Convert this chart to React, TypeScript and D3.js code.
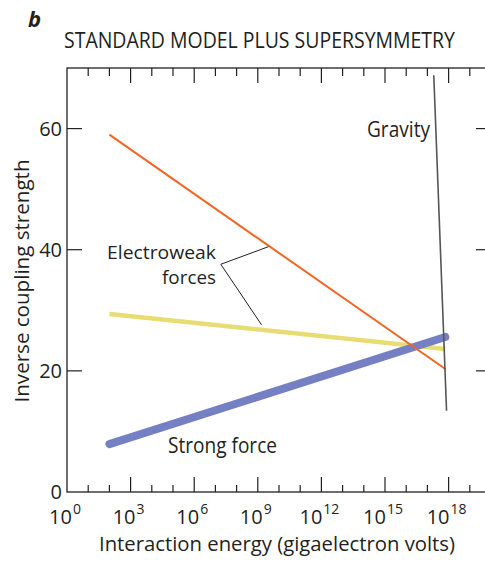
import React from 'react';
import * as d3 from 'd3';

// energies in GeV (log axis), values are inverse coupling strength
const lineEnergy = [1e2, 7e17];
const electroweakA = [59, 20.3];
const electroweakB = [29.4, 23.6];
const strongForce = [7.9, 25.6];
const gravityEnergy = [2e17, 8e17];
const gravityValue = [68.8, 13.4];

const yTicks = [0, 20, 40, 60];
const xMajorExp = [0, 3, 6, 9, 12, 15, 18];
const xMinorExp = d3.range(1, 20);

// callout for "Electroweak forces": [energy, value]
const calloutVertex: [number, number] = [1.8e7, 37.6];
const calloutTargets: [number, number][] = [[3.2e9, 40.5], [1.5e9, 27.6]];

const W = 485;
const H = 563;
const margin = { top: 68, right: -6, bottom: 71, left: 67 };
const FONT = '"Open Sans", sans-serif';
const INK = '#231f20';

export default function App() {
  const x = d3.scaleLog().domain([1, 1e20]).range([margin.left, W - margin.right]);
  const y = d3.scaleLinear().domain([0, 70]).range([H - margin.bottom, margin.top]);

  const line = d3.line<[number, number]>()
    .x(d => x(d[0]))
    .y(d => y(d[1]));

  const pts = (vals: number[], en = lineEnergy) => vals.map((v, i) => [en[i], v] as [number, number]);

  const x0 = x.range()[0];
  const x1 = x.range()[1];
  const yb = y.range()[0];
  const yt = y.range()[1];

  return (
    <div style={{ position: 'absolute', left: 0, top: 0 }}>
      <svg width={W} height={H} style={{ display: 'block', background: '#fff' }}>
        <text x={28} y={27} fontFamily={FONT} fontSize={22} fontWeight={700} fontStyle="italic" fill={INK}>b</text>
        <text x={64} y={48} fontFamily={FONT} fontSize={21} fill={INK} textLength={391} lengthAdjust="spacingAndGlyphs">
          STANDARD MODEL PLUS SUPERSYMMETRY
        </text>

        {/* frame */}
        <rect x={x0} y={yt} width={x1 - x0} height={yb - yt} fill="none" stroke={INK} strokeWidth={1.3} />

        {/* x ticks top and bottom */}
        {xMinorExp.map(e => {
          const major = e % 3 === 0;
          const xx = x(Math.pow(10, e));
          return (
            <g key={'xt' + e} stroke={INK} strokeWidth={1.2}>
              <line x1={xx} x2={xx} y1={yt} y2={yt + (major ? 15 : 8)} />
              <line x1={xx} x2={xx} y1={yb} y2={yb - (major ? 15 : 7)} />
            </g>
          );
        })}

        {/* y ticks left and right */}
        {yTicks.slice(1).map(t => (
          <g key={'yt' + t} stroke={INK} strokeWidth={1.2}>
            <line x1={x0} x2={x0 + 15} y1={y(t)} y2={y(t)} />
            <line x1={x1} x2={x1 - 15} y1={y(t)} y2={y(t)} />
          </g>
        ))}

        {yTicks.map(t => (
          <text key={'yl' + t} x={x0 - 5} y={y(t)} dy="0.36em" textAnchor="end" fontFamily={FONT} fontSize={20} fill={INK}>
            {t}
          </text>
        ))}

        {xMajorExp.map(e => (
          <text key={'xl' + e} x={x(Math.pow(10, e)) - 2} y={524} textAnchor="middle" fontFamily={FONT} fontSize={20} fill={INK}>
            10<tspan dx={1} dy={-10} fontSize={14}>{e}</tspan>
          </text>
        ))}

        <text x={277} y={551} textAnchor="middle" fontFamily={FONT} fontSize={20} fill={INK} textLength={356} lengthAdjust="spacingAndGlyphs">
          Interaction energy (gigaelectron volts)
        </text>
        <text transform={`translate(29, 281) rotate(-90)`} textAnchor="middle" fontFamily={FONT} fontSize={20} fill={INK} textLength={243} lengthAdjust="spacingAndGlyphs">
          Inverse coupling strength
        </text>

        {/* series */}
        <path d={line(pts(electroweakB)) || ''} fill="none" stroke="#e8dc74" strokeWidth={4.5} />
        <path d={line(pts(strongForce)) || ''} fill="none" stroke="#7580c4" strokeWidth={8} strokeLinecap="round" />
        <path d={line(pts(electroweakA)) || ''} fill="none" stroke="#f26522" strokeWidth={2} />
        <path d={line(pts(gravityValue, gravityEnergy)) || ''} fill="none" stroke="#555555" strokeWidth={1.6} />

        {/* callout */}
        {calloutTargets.map((c, i) => (
          <line key={'co' + i} x1={x(calloutVertex[0])} y1={y(calloutVertex[1])} x2={x(c[0])} y2={y(c[1])} stroke={INK} strokeWidth={1} />
        ))}

        <text x={216} y={259} textAnchor="end" fontFamily={FONT} fontSize={17.5} fill={INK} textLength={109} lengthAdjust="spacingAndGlyphs">Electroweak</text>
        <text x={216} y={284} textAnchor="end" fontFamily={FONT} fontSize={17.5} fill={INK} textLength={54} lengthAdjust="spacingAndGlyphs">forces</text>
        <text x={367} y={137} fontFamily={FONT} fontSize={21} fill={INK} textLength={63} lengthAdjust="spacingAndGlyphs">Gravity</text>
        <text x={168} y={453} fontFamily={FONT} fontSize={21} fill={INK} textLength={109} lengthAdjust="spacingAndGlyphs">Strong force</text>
      </svg>
    </div>
  );
}
